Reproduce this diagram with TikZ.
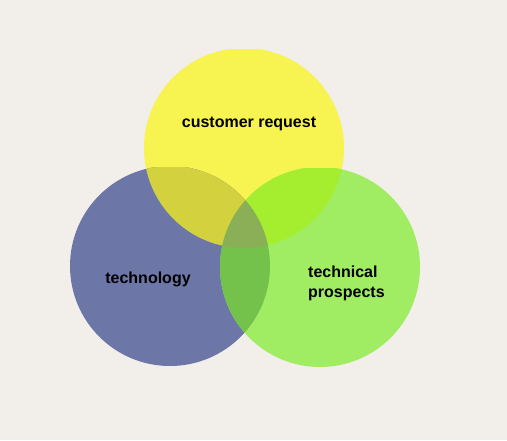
\documentclass[tikz,border=0pt]{standalone}
\usepackage{fontspec}
\setmainfont{Liberation Sans}
\definecolor{bg}{HTML}{F2EEE9}
\definecolor{cy}{HTML}{F7F452}
\definecolor{cb}{HTML}{6C77A8}
\definecolor{cg}{HTML}{A0EC62}
\definecolor{cyb}{HTML}{D3D23E}
\definecolor{cyg}{HTML}{A5EE2F}
\definecolor{cbg}{HTML}{74C14C}
\definecolor{cybg}{HTML}{8BAF57}
\newcommand\myclipY{\clip (0,49) rectangle (507,440); \clip (244,148) circle[radius=100pt];}
\newcommand\myclipB{\clip (0,167) rectangle (507,440); \clip (170,266) circle[radius=100pt];}
\newcommand\myclipG{\clip (0,168) rectangle (507,440); \clip (320,267) circle[radius=100pt];}
\newcommand\myall{(0,0) rectangle (507,440)}
\begin{document}
\begin{tikzpicture}[x=1pt,y=-1pt,
  lbl/.style={font=\bfseries\fontsize{16}{20}\selectfont, text=black, inner sep=0pt}]
\useasboundingbox (0,0) rectangle (507,440);
\fill[bg] \myall;
\begin{scope}\myclipY \fill[cy] \myall; \end{scope}
\begin{scope}\myclipB \fill[cb] \myall; \end{scope}
\begin{scope}\myclipG \fill[cg] \myall; \end{scope}
\begin{scope}\myclipY \myclipB \fill[cyb] \myall; \end{scope}
\begin{scope}\myclipY \myclipG \fill[cyg] \myall; \end{scope}
\begin{scope}\myclipB \myclipG \fill[cbg] \myall; \end{scope}
\begin{scope}\myclipY \myclipB \myclipG \fill[cybg] \myall; \end{scope}
\node[lbl, anchor=base] (req) at (249,127) {customer request};
\node[lbl, anchor=base] (tech) at (148,283) {technology};
\node[lbl, anchor=west, align=left] (pros) at (308,283) {technical\\prospects};
\end{tikzpicture}
\end{document}
